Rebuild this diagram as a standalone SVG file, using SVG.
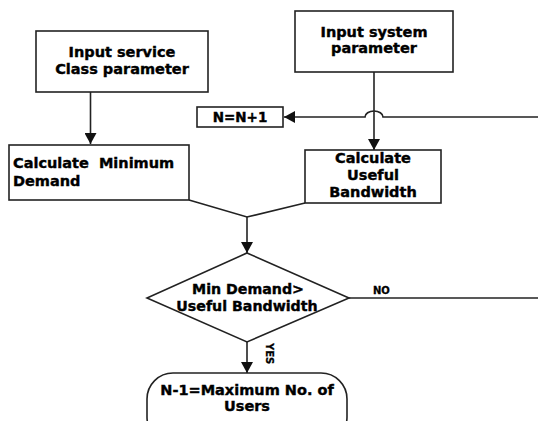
<svg xmlns="http://www.w3.org/2000/svg" width="538" height="421" viewBox="0 0 538 421">
<style>
.box{fill:#fff;stroke:#222;stroke-width:1.6}
.ln{fill:none;stroke:#222;stroke-width:1.6}
text{font-family:"DejaVu Sans","Liberation Sans",sans-serif;font-weight:bold;fill:#000;stroke:#000;stroke-width:0.4}
.t{font-size:14.5px}
.c{text-anchor:middle}
</style>
<defs>
<marker id="ah" markerUnits="userSpaceOnUse" markerWidth="12" markerHeight="12" refX="11" refY="6" orient="auto">
<path d="M0,0 L11,6 L0,12 Z" fill="#111"/>
</marker>
</defs>
<rect width="538" height="421" fill="#fff"/>
<g id="connectors">
<path class="ln" d="M90.5,92 V144" marker-end="url(#ah)"/>
<path class="ln" d="M374,72 V150" marker-end="url(#ah)"/>
<path class="ln" d="M538,117 H383 A9,6 0 0 0 365,117 H284" marker-end="url(#ah)"/>
<path class="ln" d="M189,200 L247,217 L305,203"/>
<path class="ln" d="M247,217 V253" marker-end="url(#ah)"/>
<path class="ln" d="M349,298 H538"/>
<path class="ln" d="M247,342 V373" marker-end="url(#ah)"/>
<text x="373" y="294" style="font-size:10px;stroke-width:0.3">NO</text>
<text x="266" y="343" style="font-size:10px;stroke-width:0.3" transform="rotate(90 266 343)">YES</text>
</g>
<g id="input-service">
<rect class="box" x="36" y="31" width="172" height="61"/>
<text class="t c" x="122" y="57">Input service</text>
<text class="t c" x="122" y="74">Class parameter</text>
</g>
<g id="calc-min">
<rect class="box" x="9" y="145" width="180" height="55"/>
<text class="t" x="13" y="168" xml:space="preserve">Calculate  Minimum</text>
<text class="t" x="13" y="186">Demand</text>
</g>
<g id="input-system">
<rect class="box" x="295" y="11" width="158" height="61"/>
<text class="t c" x="374" y="37">Input system</text>
<text class="t c" x="374" y="53">parameter</text>
</g>
<g id="n-inc">
<rect class="box" x="197" y="107" width="86" height="20"/>
<text class="c" x="240" y="122" style="font-size:13.5px">N=N+1</text>
</g>
<g id="calc-useful">
<rect class="box" x="305" y="150" width="136" height="53"/>
<text class="t c" x="373" y="163">Calculate</text>
<text class="t c" x="373" y="180">Useful</text>
<text class="t c" x="373" y="197">Bandwidth</text>
</g>
<g id="decision">
<path class="box" d="M247,253 L349,298 L247,342 L147,298 Z"/>
<text class="c" x="248" y="294" style="font-size:14.2px">Min Demand&gt;</text>
<text class="c" x="247" y="311" style="font-size:14.2px">Useful Bandwidth</text>
</g>
<g id="terminal">
<rect class="box" x="147" y="373" width="200" height="70" rx="26" ry="26"/>
<text class="t c" x="247" y="395">N-1=Maximum No. of</text>
<text class="t c" x="247" y="411">Users</text>
</g>
</svg>
